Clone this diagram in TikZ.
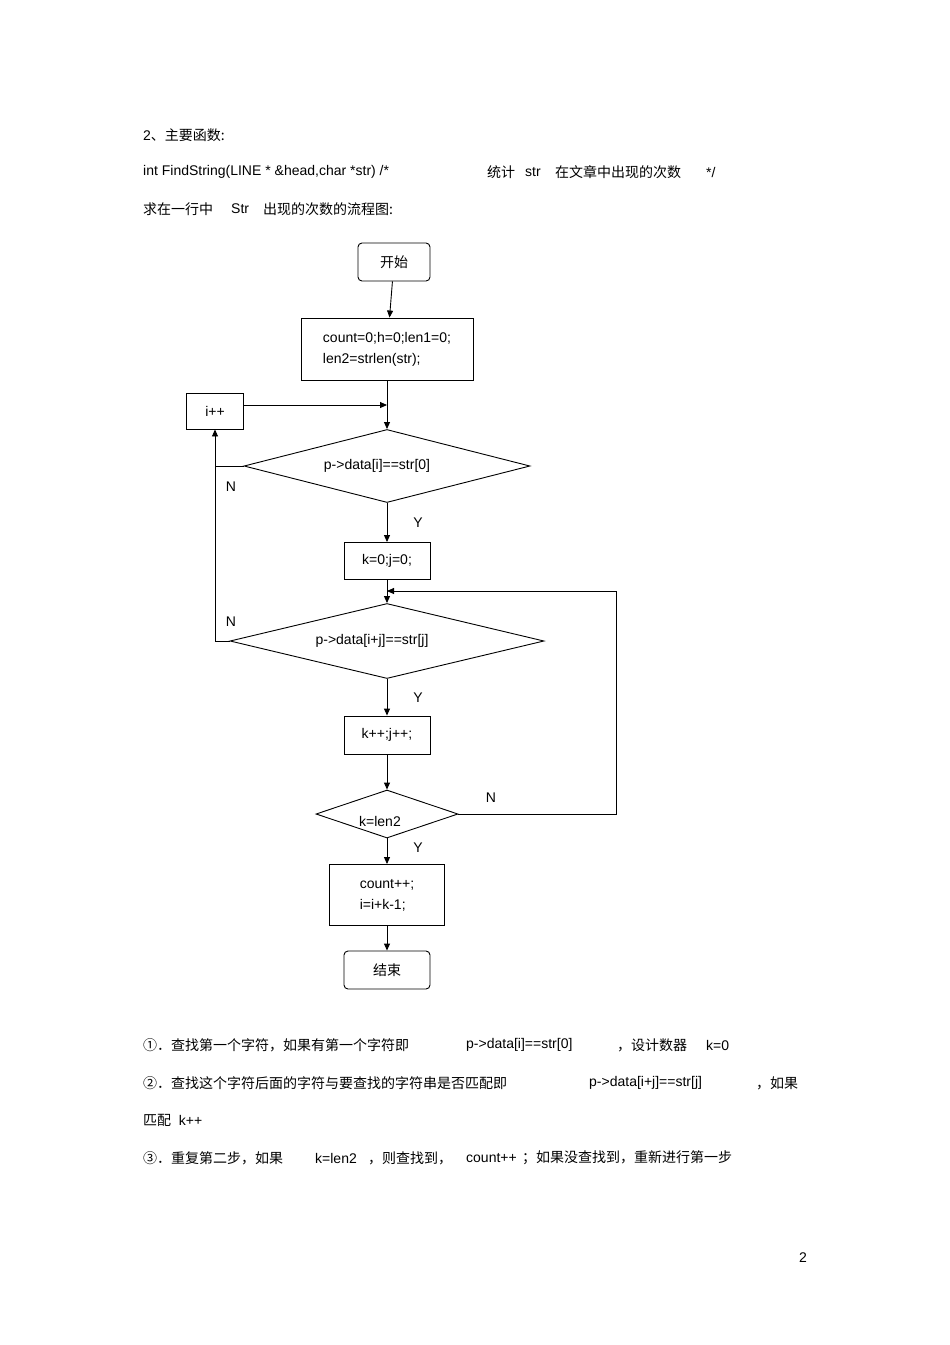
\documentclass[tikz,border=0pt]{standalone}
\usepackage{fontspec}
\setmainfont{Liberation Sans}
\newfontfamily\cjk{Noto Sans CJK SC}
\usetikzlibrary{shapes.geometric,arrows.meta}
\begin{document}
\begin{tikzpicture}[x=1pt,y=-1pt,font=\fontsize{14}{17}\selectfont,
  box/.style={draw,line width=0.9pt,minimum height=#1,inner sep=0pt},
  dia/.style={draw,line width=0.9pt,diamond,inner sep=0pt},
  ar/.style={line width=0.9pt,-{Triangle[length=7pt,width=6pt]}},
  ln/.style={line width=0.9pt},
  t/.style={anchor=west,inner sep=0pt}]
\useasboundingbox (0,0) rectangle (950,1345);
% header texts
\node[t] (h1) at (143,135) {2{\cjk 、主要函数:}};
\node[t] (h2) at (143,172) {int FindString(LINE * \&head,char *str) /*};
\node[t] (h2b) at (487,172) {\cjk 统计};
\node[t] (h2c) at (525,172) {str};
\node[t] (h2d) at (555,172) {\cjk 在文章中出现的次数};
\node[t] (h2e) at (706,172) {*/};
\node[t] (h3) at (143,209) {\cjk 求在一行中};
\node[t] (h3b) at (231,209) {Str};
\node[t] (h3c) at (263,209) {\cjk 出现的次数的流程图:};
% flowchart
\node[box=38pt,minimum width=72pt,rounded corners=4pt] (start) at (394,262) {\cjk 开始};
\node[box=62pt,minimum width=172pt,align=left] (init) at (387,349) {count=0;h=0;len1=0;\\[4pt]len2=strlen(str);};
\node[box=36pt,minimum width=57pt] (inc) at (215,411) {i++};
\node[dia,minimum width=286pt,minimum height=73pt] (d1) at (387,466) {};
\node at (377,466) {p->data[i]==str[0]};
\node[box=37pt,minimum width=86pt] (kj) at (387,561) {k=0;j=0;};
\node[dia,minimum width=314pt,minimum height=75pt] (d2) at (387,641) {};
\node at (372,641) {p->data[i+j]==str[j]};
\node[box=38pt,minimum width=86pt] (kpp) at (387,735) {k++;j++;};
\node[dia,minimum width=142pt,minimum height=48pt] (d3) at (387,814) {};
\node at (380,821) {k=len2};
\node[box=61pt,minimum width=115pt,align=left] (cnt) at (387,895) {count++;\\[4pt]i=i+k-1;};
\node[box=38pt,minimum width=86pt,rounded corners=4pt] (end) at (387,970) {\cjk 结束};
\coordinate (j1) at (387,405);
\coordinate (j2) at (387,591);
\draw[ar] (start) -- (init);
\draw[ar] (init) -- (d1.north);
\draw[ar] (inc.east |- j1) -- (j1);
\draw[ln] (d1.west) -- (215,466);
\draw[ar] (215,466) -- (inc.south);
\draw[ln] (d2.west) -- (215,641) -- (215,466);
\draw[ar] (d1.south) -- (kj);
\draw[ar] (kj) -- (d2.north);
\draw[ar] (d2.south) -- (kpp);
\draw[ar] (kpp) -- (d3.north);
\draw[ar] (d3.east) -- (616,814) -- (616,591) -- (j2);
\draw[ar] (d3.south) -- (cnt);
\draw[ar] (cnt) -- (end);
\node (n1) at (231,487) {N};
\node (y1) at (418,523) {Y};
\node (n2) at (231,622) {N};
\node (y2) at (418,698) {Y};
\node (n3) at (491,798) {N};
\node (y3) at (418,848) {Y};
% footer
\node[t] (f1) at (143,1045) {\cjk ①．查找第一个字符，如果有第一个字符即};
\node[t] (f1b) at (466,1045) {p->data[i]==str[0]};
\node[t] (f1c) at (617,1045) {\cjk ，设计数器};
\node[t] (f1d) at (706,1045) {k=0};
\node[t] (f2) at (143,1083) {\cjk ②．查找这个字符后面的字符与要查找的字符串是否匹配即};
\node[t] (f2b) at (589,1083) {p->data[i+j]==str[j]};
\node[t] (f2c) at (756,1083) {\cjk ，如果};
\node[t] (f3) at (143,1120) {{\cjk 匹配}\ \ k++};
\node[t] (f4) at (143,1158) {\cjk ③．重复第二步，如果};
\node[t] (f4b) at (315,1158) {k=len2};
\node[t] (f4c) at (368,1158) {\cjk ，则查找到，};
\node[t] (f4d) at (466,1158) {count++};
\node[t] (f4e) at (522,1158) {\cjk ；如果没查找到，重新进行第一步};
\node (pg) at (803,1258) {2};
\end{tikzpicture}
\end{document}
